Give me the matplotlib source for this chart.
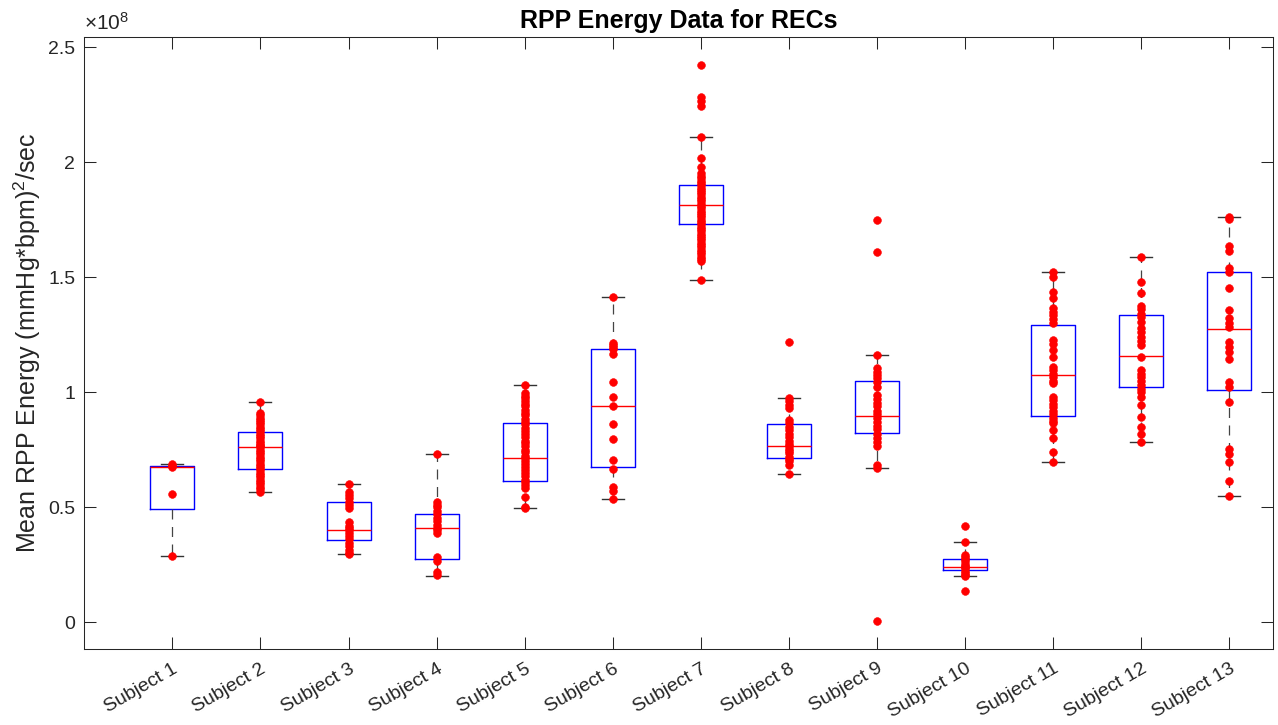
import numpy as np
import matplotlib
matplotlib.use("Agg")
import matplotlib.pyplot as plt
from matplotlib.ticker import FuncFormatter

plt.rcParams['font.family'] = ['Liberation Sans', 'DejaVu Sans']
plt.rcParams['mathtext.fontset'] = 'custom'
plt.rcParams['mathtext.rm'] = 'Liberation Sans'
plt.rcParams['mathtext.it'] = 'Liberation Sans:italic'
plt.rcParams['mathtext.bf'] = 'Liberation Sans:bold'

# values in units of 1e8 (mmHg*bpm)^2/sec
subjects = [f"Subject {i}" for i in range(1, 14)]

s1 = [0.290, 0.557, 0.675, 0.681, 0.687]
s2 = [0.957, 0.91, 0.90, 0.89, 0.88, 0.87, 0.86, 0.85, 0.84, 0.83, 0.82, 0.81,
      0.80, 0.79, 0.78, 0.77, 0.765, 0.76, 0.75, 0.74, 0.73, 0.72, 0.71, 0.70,
      0.69, 0.68, 0.67, 0.66, 0.65, 0.64, 0.63, 0.62, 0.61, 0.60, 0.59, 0.58, 0.568]
s3 = [0.601, 0.568, 0.555, 0.54, 0.525, 0.51, 0.496, 0.437, 0.42, 0.41, 0.40,
      0.39, 0.375, 0.36, 0.345, 0.33, 0.315, 0.30, 0.297]
s4 = [0.730, 0.524, 0.51, 0.50, 0.485, 0.47, 0.455, 0.44, 0.425, 0.41, 0.40,
      0.39, 0.285, 0.265, 0.22, 0.205]
s5 = [1.033, 0.996, 0.985, 0.975, 0.96, 0.95, 0.94, 0.925, 0.91, 0.90, 0.885,
      0.87, 0.86, 0.845, 0.83, 0.82, 0.805, 0.79, 0.78, 0.765, 0.75, 0.74, 0.725,
      0.713, 0.70, 0.69, 0.675, 0.66, 0.65, 0.635, 0.62, 0.61, 0.595, 0.583,
      0.543, 0.503, 0.497]
s6 = [1.416, 1.216, 1.206, 1.195, 1.187, 1.167, 1.043, 0.981, 0.939, 0.864,
      0.797, 0.706, 0.665, 0.590, 0.572, 0.535]
s7 = [2.423, 2.285, 2.264, 2.246, 2.110, 2.020, 1.981, 1.952, 1.94, 1.93, 1.92,
      1.91, 1.90, 1.89, 1.88, 1.87, 1.86, 1.85, 1.84, 1.83, 1.82, 1.81, 1.80,
      1.79, 1.78, 1.77, 1.76, 1.75, 1.74, 1.73, 1.72, 1.71, 1.70, 1.69, 1.68,
      1.67, 1.66, 1.65, 1.64, 1.63, 1.62, 1.61, 1.60, 1.59, 1.58, 1.572, 1.490]
s8 = [1.217, 0.974, 0.96, 0.945, 0.93, 0.88, 0.865, 0.85, 0.835, 0.82, 0.805,
      0.79, 0.775, 0.765, 0.755, 0.745, 0.735, 0.72, 0.71, 0.70, 0.685, 0.643]
s9 = [1.749, 1.610, 1.163, 1.104, 1.09, 1.075, 1.06, 1.045, 1.024, 0.988, 0.97,
      0.955, 0.94, 0.92, 0.905, 0.89, 0.87, 0.855, 0.84, 0.82, 0.80, 0.785,
      0.765, 0.684, 0.672, 0.006]
s10 = [0.419, 0.349, 0.293, 0.285, 0.275, 0.265, 0.255, 0.245, 0.24, 0.235,
       0.225, 0.215, 0.205, 0.201, 0.137]
s11 = [1.522, 1.503, 1.437, 1.411, 1.365, 1.35, 1.335, 1.32, 1.30, 1.227, 1.21,
       1.184, 1.155, 1.111, 1.095, 1.08, 1.065, 1.05, 1.039, 0.981, 0.965, 0.95,
       0.935, 0.92, 0.905, 0.89, 0.875, 0.865, 0.836, 0.80, 0.742, 0.698]
s12 = [1.587, 1.481, 1.430, 1.377, 1.36, 1.34, 1.325, 1.307, 1.278, 1.26, 1.24,
       1.225, 1.206, 1.152, 1.097, 1.08, 1.065, 1.05, 1.03, 1.015, 1.0, 0.981,
       0.945, 0.894, 0.848, 0.819, 0.783]
s13 = [1.761, 1.752, 1.636, 1.614, 1.539, 1.524, 1.452, 1.358, 1.322, 1.303,
       1.283, 1.220, 1.198, 1.177, 1.145, 1.046, 1.024, 0.957, 0.752, 0.732,
       0.696, 0.613, 0.550]
points = [s1, s2, s3, s4, s5, s6, s7, s8, s9, s10, s11, s12, s13]

# box statistics
q1 = [0.491, 0.667, 0.359, 0.274, 0.616, 0.675, 1.732, 0.716, 0.823, 0.226, 0.898, 1.023, 1.010]
med = [0.675, 0.761, 0.400, 0.410, 0.713, 0.939, 1.816, 0.765, 0.896, 0.242, 1.075, 1.158, 1.274]
q3 = [0.681, 0.829, 0.522, 0.470, 0.865, 1.187, 1.903, 0.861, 1.050, 0.277, 1.291, 1.337, 1.522]
whis_lo = [0.290, 0.568, 0.297, 0.201, 0.497, 0.535, 1.490, 0.643, 0.670, 0.201, 0.698, 0.783, 0.550]
whis_hi = [0.687, 0.957, 0.601, 0.730, 1.033, 1.416, 2.110, 0.974, 1.163, 0.349, 1.522, 1.587, 1.761]

stats = []
for i in range(len(subjects)):
    stats.append({'med': med[i], 'q1': q1[i], 'q3': q3[i],
                  'whislo': whis_lo[i], 'whishi': whis_hi[i], 'fliers': []})

W, H = 1278, 725
fig = plt.figure(figsize=(W / 100, H / 100), dpi=100)
ax = fig.add_axes([84.3 / W, 1 - 649 / H, (1273.3 - 84.3) / W, (649 - 37.3) / H])

pos = np.arange(1, len(subjects) + 1)
ax.bxp(stats, positions=pos, widths=0.5, capwidths=0.25, showfliers=False,
       boxprops=dict(color='#0000ff', linewidth=1.0),
       medianprops=dict(color='#ff0000', linewidth=1.0),
       whiskerprops=dict(color='#444444', linewidth=0.9, linestyle=(0, (8, 6))),
       capprops=dict(color='#333333', linewidth=1.0))

for p, vals in zip(pos, points):
    ax.plot(np.full(len(vals), p), vals, 'o', color='#ff0000', ms=5.6,
            mec='#ff0000', mew=0.4, zorder=3)

ax.set_xlim(0.0, 13.5)
ax.set_ylim(-0.116, 2.543)
ax.set_xticks(pos)
ax.set_xticklabels(subjects, rotation=30, ha='right', va='top',
                   rotation_mode='anchor', fontsize=14, color='#262626')
ax.set_yticks([0, 0.5, 1, 1.5, 2, 2.5])
ax.yaxis.set_major_formatter(FuncFormatter(lambda v, _: f"{v:g}"))
ax.tick_params(axis='y', labelsize=14, labelcolor='#262626', pad=6.5)
ax.tick_params(axis='x', pad=8)
ax.tick_params(direction='in', length=8.6, width=0.75, color='#262626',
               top=True, right=True)
for sp in ax.spines.values():
    sp.set_color('#262626')
    sp.set_linewidth(0.75)

ax.text(0.0, 1.006, r'$\times$10$^{8}$', transform=ax.transAxes,
        fontsize=15, color='#262626', ha='left', va='bottom')
ax.set_ylabel(r'Mean RPP Energy (mmHg*bpm)$^{2}$/sec', fontsize=18,
              color='#262626', labelpad=4)
ax.set_title('RPP Energy Data for RECs', fontsize=18, fontweight='bold', pad=7)

fig.savefig('out.png', dpi=100, facecolor='white')
